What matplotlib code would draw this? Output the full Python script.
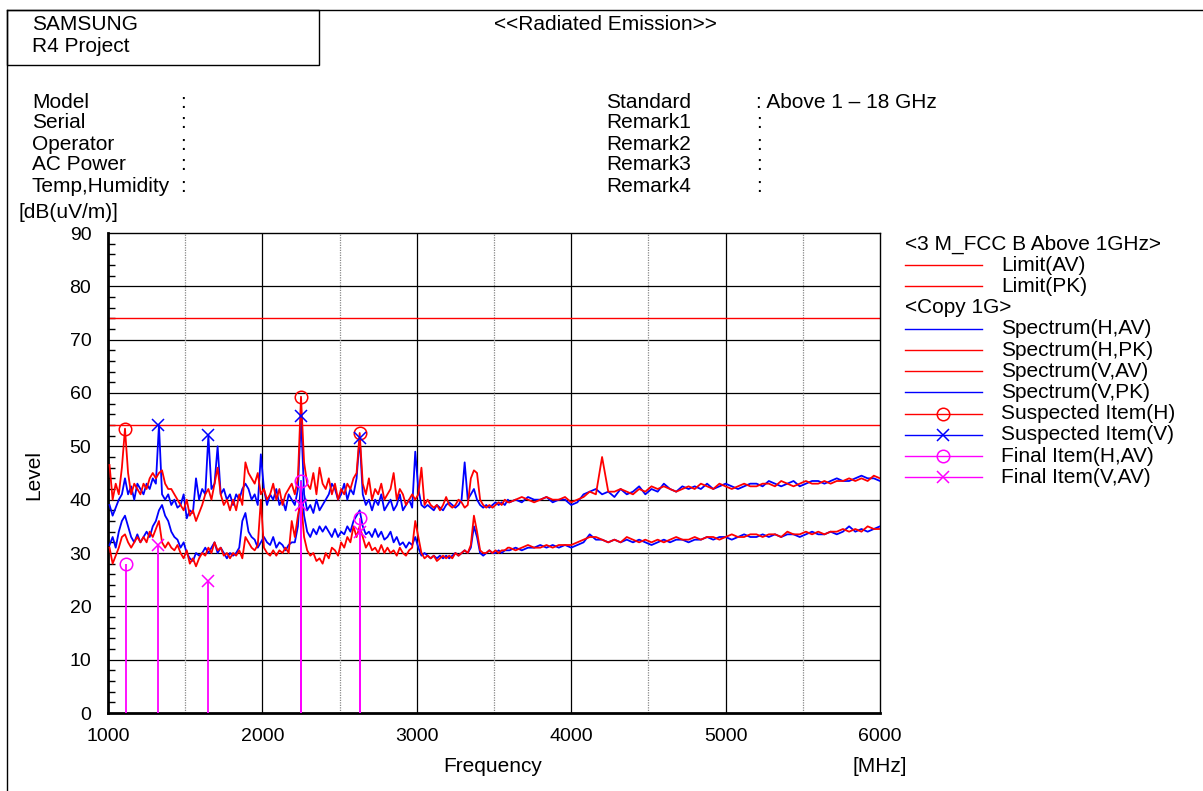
import matplotlib.pyplot as plt
from matplotlib.lines import Line2D
from matplotlib.patches import Rectangle
from matplotlib.ticker import MultipleLocator
import numpy as np

plt.rcParams['font.family'] = ['Liberation Sans', 'DejaVu Sans']

W, H = 1203, 791

# frequency grid of the traces (MHz)
freq = np.concatenate([np.arange(1010, 3600, 20), np.arange(3600, 6001, 40)])

# Spectrum(H,PK) - red, upper band
h_pk = [
    46.5, 40, 43, 41, 46, 53.3, 45, 41, 43, 42,
    41, 43, 42, 44, 45, 44, 45, 45.5, 43, 42,
    42, 41, 40, 39, 38, 40, 37, 38, 36, 37.5,
    39, 41, 42, 40, 43, 46, 41, 39, 40, 38,
    40, 38, 41, 39, 47, 45, 44, 43, 45, 41,
    42, 40, 41, 43, 40, 42, 39, 41, 42, 43,
    41, 44, 59.3, 47, 43, 42, 45, 41, 46, 43,
    42, 44, 41, 43, 40, 42, 41, 43, 42, 44,
    45, 52.5, 43, 41, 44, 40, 42, 41, 43, 40,
    41, 42, 45, 40, 42, 41, 39, 40, 41, 40,
    41, 46, 39, 40, 39, 38.5, 39, 38, 39, 40.5,
    39, 38.5, 39, 40, 39.5, 38.5, 39, 44, 45.5, 45,
    40, 39, 38.5, 39, 38.5, 39, 39.5, 39, 40, 39.5,
    39.5, 40, 40.5, 40, 39.5, 40, 40.5, 40, 40, 40.5,
    39.5, 40, 40.5, 41.5, 41, 48, 41.5, 41.5, 42, 41.5,
    41, 42, 41.5, 42.5, 42, 42.5, 42, 41.5, 42, 42.5,
    42, 43, 42.5, 42, 43, 42.5, 42, 42.5, 43, 42.5,
    42.5, 43, 43, 42.5, 43.5, 43, 42.5, 43, 43.5, 43,
    43, 43.5, 43, 43.5, 43.5, 44, 43.5, 44, 43.5, 44.5,
    44,
]

# Spectrum(V,PK) - blue, upper band
v_pk = [
    39, 37, 38.5, 40, 41, 44, 41, 42.5, 40, 43,
    42, 41, 43, 42, 44, 43, 54, 41, 40, 41,
    39, 40, 38.5, 39, 41, 36.5, 38, 37.5, 44, 40,
    42, 41, 52, 42, 43, 50, 41, 42, 40, 41,
    39, 41, 40, 42, 43, 42, 40, 41, 39, 48.5,
    42, 39, 41, 40, 42, 39, 40, 38, 41, 40,
    39, 42, 55.7, 41, 38, 39, 37.5, 40, 38, 39,
    40, 41, 43, 42, 40, 41, 43, 40, 42, 41,
    44, 51.6, 41, 39, 40, 38, 40, 39, 41, 38,
    39, 40, 38, 39, 41, 38, 39, 40, 38.5, 49,
    42, 39, 38.5, 39, 38.5, 38, 39, 38.5, 38, 39,
    39.5, 39, 38.5, 39, 40, 47, 40, 41, 42, 40,
    39, 38.5, 39, 38.5, 39, 39.5, 39, 39.5, 39, 40,
    39.5, 40, 39.5, 40.5, 40, 40, 40.5, 39.5, 40, 40,
    39, 39.5, 41, 41.5, 42, 41, 41.5, 40.5, 42, 41,
    41.5, 42.5, 41, 42, 41.5, 43, 42, 41.5, 42.5, 42,
    42.5, 42, 43, 42, 42.5, 43, 42.5, 42, 42.5, 43,
    43, 42.5, 43.5, 43, 42.5, 43, 43.5, 42.5, 43, 43.5,
    43.5, 43, 43.5, 44, 43.5, 43.5, 44, 44.5, 44, 44,
    43.5,
]

# Spectrum(H,AV) - blue, lower band
h_av = [
    31.5, 33, 31, 34, 36, 37, 35, 33, 32, 33.5,
    32, 33, 34, 33, 35, 36, 38, 39, 37, 36,
    34, 33, 32.5, 31, 32, 30, 29, 28.5, 30, 29.5,
    30, 31, 30, 31, 32, 30, 31, 30, 29, 30,
    29.5, 30, 31, 36, 37.5, 34, 33, 32.5, 31, 32,
    33, 32, 31.5, 33, 31, 32, 31.5, 30.5, 31.5, 32,
    32, 35, 43.5, 37, 34, 33, 34.5, 33.5, 35, 34,
    35, 34, 33, 34.5, 33, 34, 33.5, 35, 34, 36,
    37, 38, 35, 33.5, 34, 33, 34.5, 33, 34, 32.5,
    33, 34, 32, 33, 31.5, 32, 31, 32, 31.5, 33,
    31, 29.5, 30, 29.5, 29, 29.5, 29, 29.5, 29, 29.5,
    29, 29.5, 30, 29.5, 30, 30.5, 30, 31, 35, 33,
    30, 29.5, 30, 30.5, 30, 30, 30.5, 30, 30.5, 30.5,
    30.5, 31, 30.5, 31, 31, 31.5, 31, 31.5, 31, 31.5,
    31, 31.5, 32, 33.5, 32.5, 32.5, 32, 32.5, 32, 32.5,
    32, 32.5, 32, 31.5, 32, 32.5, 32, 32.5, 32.5, 32,
    32.5, 32.5, 33, 32.5, 33, 33, 32.5, 33, 33.5, 33,
    33, 33.5, 33, 33.5, 33, 33.5, 33.5, 33, 33.5, 34,
    33.5, 33.5, 34, 33.5, 34, 35, 34, 34.5, 34, 34.5,
    35,
]

# Spectrum(V,AV) - red, lower band
v_av = [
    31, 28, 29.5, 31, 33, 33.5, 32, 31, 32, 33,
    32, 33, 32, 34, 33, 34.5, 36, 32, 31, 32,
    31, 30.5, 31.5, 30, 29, 30.5, 28, 29, 27.5, 29,
    30, 29.5, 31, 30, 32, 30.5, 31, 29.5, 30, 29,
    30, 29.5, 30.5, 29, 33, 32, 31, 30.5, 31.5, 40,
    31, 30, 29.5, 30.5, 29.5, 30.5, 30, 31, 30, 36,
    33, 37, 40, 33, 30.5, 29.5, 30, 28.5, 29, 28,
    30, 29, 31, 30.5, 29.5, 32, 31, 33, 32, 35,
    33, 35, 33, 31, 32, 30.5, 31, 30, 31.5, 30,
    31, 30, 30.5, 29.5, 31, 30, 29.5, 30.5, 31, 36,
    33, 30, 29, 29.5, 29, 29.5, 28.5, 29, 29.5, 29,
    29.5, 29, 30, 29.5, 30, 30.5, 30, 31.5, 37, 34,
    30.5, 30, 30, 30.5, 30, 30.5, 30, 30.5, 30.5, 31,
    31, 30.5, 31, 31.5, 31, 31, 31.5, 31, 31.5, 31.5,
    31.5, 32, 32.5, 33, 33, 32.5, 32, 32.5, 32, 33,
    32.5, 32, 32.5, 32, 32.5, 32, 32.5, 33, 32.5, 32.5,
    33, 32.5, 33, 33, 32.5, 33, 33.5, 33, 33, 33.5,
    33.5, 33, 33.5, 33.5, 33, 34, 33.5, 33.5, 34, 33.5,
    34, 33.5, 34, 34, 34.5, 34, 34.5, 34, 35, 34.5,
    34.5,
]

limit_av = 54
limit_pk = 74

susp_h_freq = [1110, 2250, 2632]
susp_h_level = [53.3, 59.3, 52.5]
susp_v_freq = [1324, 1648, 2250, 2632]
susp_v_level = [54.0, 52.1, 55.7, 51.6]
final_h_freq = [1115, 2250, 2632]
final_h_level = [28.0, 43.5, 36.6]
final_v_freq = [1324, 1648, 2250, 2632]
final_v_level = [31.5, 24.8, 39.0, 34.0]

RED, BLUE, MAG = '#ff0000', '#0000ff', '#ff00ff'
FS = 15


def fx(x):
    return x / W


def fy(y):
    return 1 - y / H


fig = plt.figure(figsize=(W / 100, H / 100), dpi=100)
ax = fig.add_axes([fx(108), fy(713), (880 - 108) / W, (713 - 233) / H])

ax.plot(freq, h_av, color=BLUE, lw=1.3, zorder=3)
ax.plot(freq, v_av, color=RED, lw=1.3, zorder=3)
ax.plot(freq, v_pk, color=BLUE, lw=1.3, zorder=3)
ax.plot(freq, h_pk, color=RED, lw=1.3, zorder=4)

ax.axhline(limit_av, color=RED, lw=1.0, zorder=2)
ax.axhline(limit_pk, color=RED, lw=1.0, zorder=2)

ax.vlines(final_h_freq, 0, final_h_level, color=MAG, lw=1.3, zorder=5)
ax.vlines(final_v_freq, 0, final_v_level, color=MAG, lw=1.3, zorder=5)
ax.plot(final_h_freq, final_h_level, 'o', ms=9, mfc='none', mec=MAG, mew=1.1, zorder=6)
ax.plot(final_v_freq, final_v_level, 'x', ms=9, color=MAG, mew=1.1, zorder=6)
ax.plot(susp_h_freq, susp_h_level, 'o', ms=9, mfc='none', mec=RED, mew=1.1, zorder=6)
ax.plot(susp_v_freq, susp_v_level, 'x', ms=9, color=BLUE, mew=1.1, zorder=6)

ax.set_xlim(1000, 6000)
ax.set_ylim(0, 90)
ax.xaxis.set_major_locator(MultipleLocator(1000))
ax.yaxis.set_major_locator(MultipleLocator(10))
ax.yaxis.set_minor_locator(MultipleLocator(2))
ax.tick_params(axis='both', which='major', length=0, labelsize=14)
ax.tick_params(axis='x', pad=11)
ax.tick_params(axis='y', pad=12)
ax.tick_params(axis='y', which='minor', direction='in', length=5, width=1, left=True)
ax.tick_params(axis='x', which='minor', length=0)

for v in range(10, 90, 10):
    ax.axhline(v, color='black', lw=0.9, zorder=1)
for v in range(2000, 6000, 1000):
    ax.axvline(v, color='black', lw=0.9, zorder=1)
for v in range(1500, 6000, 1000):
    ax.axvline(v, color='#888888', lw=0.9, ls=(0, (1, 1)), zorder=1)
for side in ['top', 'right']:
    ax.spines[side].set_linewidth(1.0)
for side in ['left', 'bottom']:
    ax.spines[side].set_linewidth(2.0)

# page frame
fig.add_artist(Line2D([fx(7), 1], [fy(10), fy(10)], color='black', lw=1))
fig.add_artist(Line2D([fx(7), fx(7)], [fy(10), 0], color='black', lw=1))
fig.add_artist(Rectangle((fx(7), fy(65)), (319 - 7) / W, 55 / H, fill=False,
                         ec='black', lw=1))

fig.text(fx(32), fy(25), 'SAMSUNG', fontsize=FS, va='center')
fig.text(fx(32), fy(47), 'R4 Project', fontsize=FS, va='center')
fig.text(fx(605), fy(25), '<<Radiated Emission>>', fontsize=FS, va='center', ha='center')

left_keys = ['Model', 'Serial', 'Operator', 'AC Power', 'Temp,Humidity']
right_keys = ['Standard', 'Remark1', 'Remark2', 'Remark3', 'Remark4']
right_vals = [': Above 1 \u2013 18 GHz', ':', ':', ':', ':']
for i, (lk, rk, rv) in enumerate(zip(left_keys, right_keys, right_vals)):
    y = 102 + i * 21
    fig.text(fx(32), fy(y), lk, fontsize=FS, va='center')
    fig.text(fx(180), fy(y), ':', fontsize=FS, va='center')
    fig.text(fx(606), fy(y), rk, fontsize=FS, va='center')
    fig.text(fx(756), fy(y), rv, fontsize=FS, va='center')

fig.text(fx(18), fy(213), '[dB(uV/m)]', fontsize=FS, va='center')
fig.text(fx(34), fy(475), 'Level', fontsize=FS, va='center', ha='center', rotation=90)
fig.text(fx(493), fy(767), 'Frequency', fontsize=FS, va='center', ha='center')
fig.text(fx(880), fy(767), '[MHz]', fontsize=FS, va='center', ha='center')

# legend
legend_rows = [
    ('<3 M_FCC B Above 1GHz>', None, None),
    ('Limit(AV)', RED, None),
    ('Limit(PK)', RED, None),
    ('<Copy 1G>', None, None),
    ('Spectrum(H,AV)', BLUE, None),
    ('Spectrum(H,PK)', RED, None),
    ('Spectrum(V,AV)', RED, None),
    ('Spectrum(V,PK)', BLUE, None),
    ('Suspected Item(H)', RED, 'o'),
    ('Suspected Item(V)', BLUE, 'x'),
    ('Final Item(H,AV)', MAG, 'o'),
    ('Final Item(V,AV)', MAG, 'x'),
]
for i, (label, col, mk) in enumerate(legend_rows):
    y = 244 + i * 21.2
    if col is None:
        fig.text(fx(905), fy(y), label, fontsize=FS, va='center')
        continue
    fig.add_artist(Line2D([fx(905), fx(982)], [fy(y), fy(y)], color=col, lw=1))
    if mk == 'o':
        fig.add_artist(Line2D([fx(943)], [fy(y)], marker='o', ms=9, mfc='none',
                              mec=col, mew=1.1, ls='none'))
    elif mk == 'x':
        fig.add_artist(Line2D([fx(943)], [fy(y)], marker='x', ms=9, color=col,
                              mew=1.1, ls='none'))
    fig.text(fx(1001), fy(y), label, fontsize=FS, va='center')

fig.savefig('out.png', dpi=100)
